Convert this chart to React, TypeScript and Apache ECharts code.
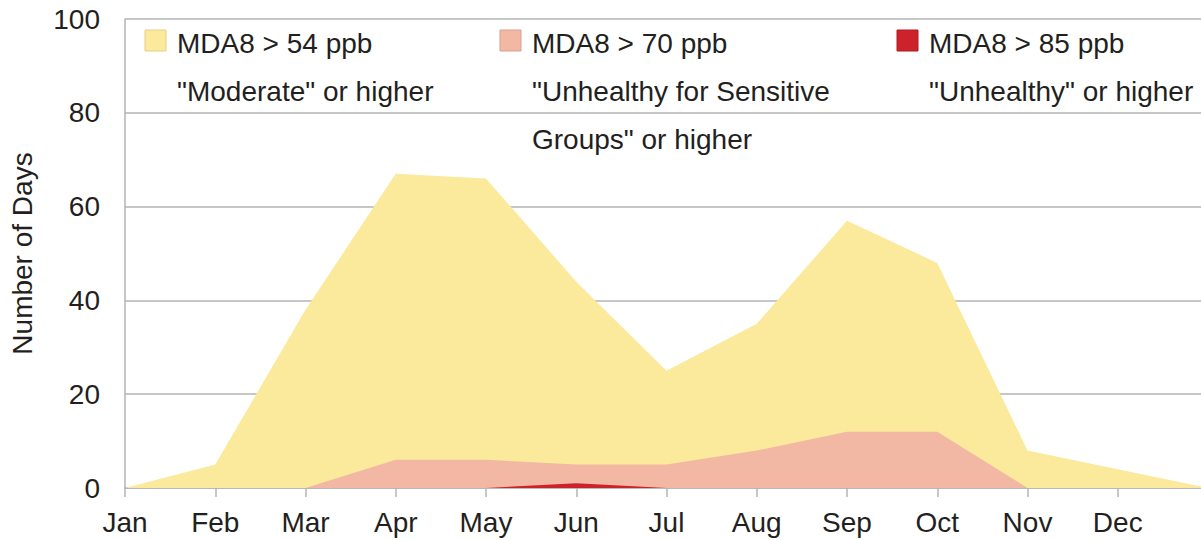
import React, { useEffect, useRef } from "react";
import * as echarts from "echarts";

const months = ["Jan", "Feb", "Mar", "Apr", "May", "Jun", "Jul", "Aug", "Sep", "Oct", "Nov", "Dec", ""];
const moderateDays = [0, 5, 38, 67, 66, 44, 25, 35, 57, 48, 8, 4, 0];
const usgDays = [null, null, 0, 6, 6, 5, 5, 8, 12, 12, 0, null, null];
const unhealthyDays = [null, null, null, null, 0, 1, 0, null, null, null, null, null, null];
const yTicks = { min: 0, max: 100, interval: 20 };

const legendItems = [
  { color: "#fbe99c", border: "#e3cf86", x: 145, lines: ["MDA8 > 54 ppb", '"Moderate" or higher'] },
  { color: "#f2b8a4", border: "#d9a090", x: 500, lines: ["MDA8 > 70 ppb", '"Unhealthy for Sensitive', 'Groups" or higher'] },
  { color: "#cc2229", border: "#b01c22", x: 897, lines: ["MDA8 > 85 ppb", '"Unhealthy" or higher'] },
];

const TEXT = "#231f20";
const GRID = "#b5b5b5";
const FONT = "Liberation Sans, Arial, sans-serif";

export default function App() {
  const ref = useRef<HTMLDivElement>(null);
  useEffect(() => {
    if (!ref.current) return;
    const chart = echarts.init(ref.current, null, { renderer: "svg" });
    const lineYs = [43.5, 91.5, 139.5];
    const graphics: any[] = [];
    legendItems.forEach((it) => {
      graphics.push({
        type: "rect",
        shape: { x: it.x, y: 30, width: 21, height: 21 },
        style: { fill: it.color, stroke: it.border, lineWidth: 1 },
        z: 10,
      });
      it.lines.forEach((ln, i) => {
        graphics.push({
          type: "text",
          x: it.x + 32,
          y: lineYs[i],
          style: { text: ln, fill: TEXT, font: `28px ${FONT}`, verticalAlign: "middle", align: "left" },
          z: 10,
        });
      });
    });
    const mk = (name: string, data: any[], color: string, z: number) => ({
      name,
      type: "line",
      data,
      symbol: "none",
      lineStyle: { width: 0 },
      areaStyle: { color, opacity: 1 },
      itemStyle: { color },
      z,
    });
    chart.setOption({
      animation: false,
      textStyle: { fontFamily: FONT },
      grid: { left: 125, top: 19, right: 4, height: 469, containLabel: false },
      xAxis: {
        type: "category",
        data: months,
        boundaryGap: false,
        axisLine: { show: true, lineStyle: { color: GRID, width: 1.5 } },
        axisTick: { show: true, length: 9, interval: 0, lineStyle: { color: GRID, width: 1.5 } },
        axisLabel: { color: TEXT, fontSize: 28, margin: 20, interval: 0, fontFamily: FONT },
        splitLine: { show: false },
      },
      yAxis: {
        type: "value",
        min: yTicks.min,
        max: yTicks.max,
        interval: yTicks.interval,
        name: "Number of Days",
        nameLocation: "middle",
        nameGap: 89,
        nameTextStyle: { color: TEXT, fontSize: 28, fontFamily: FONT },
        axisLine: { show: true, lineStyle: { color: GRID, width: 1.5 } },
        axisTick: { show: false },
        axisLabel: { color: TEXT, fontSize: 28, margin: 25, fontFamily: FONT },
        splitLine: { show: true, lineStyle: { color: GRID, width: 1.5 } },
      },
      series: [
        mk("MDA8 > 54 ppb", moderateDays, "#fbe99c", 2),
        mk("MDA8 > 70 ppb", usgDays, "#f2b8a4", 3),
        mk("MDA8 > 85 ppb", unhealthyDays, "#cc2229", 4),
      ],
      graphic: graphics,
    });
    return () => chart.dispose();
  }, []);
  return (
    <div style={{ position: "fixed", left: 0, top: 0, width: 1201, height: 540, overflow: "hidden", background: "#fff" }}>
      <div ref={ref} style={{ width: 1212, height: 540 }} />
    </div>
  );
}
